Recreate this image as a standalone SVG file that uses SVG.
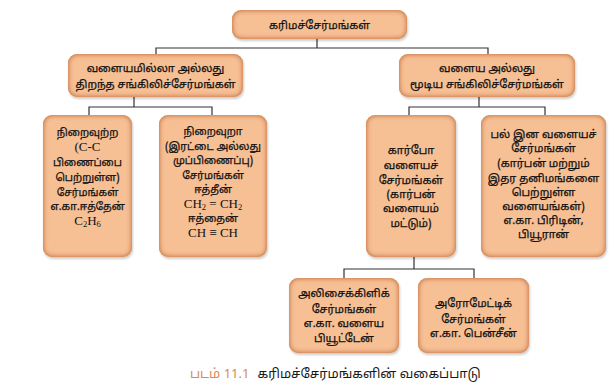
<svg xmlns="http://www.w3.org/2000/svg" width="615" height="389" viewBox="0 0 615 389">
<style>
.box{fill:#f6bf94;filter:url(#bevel)}
.t{font-family:"Noto Sans Tamil","Lohit Tamil","Noto Sans","DejaVu Sans",sans-serif;font-size:11px;fill:#111;stroke:#111;stroke-width:0.25;text-anchor:middle}
.tt{font-size:10.5px}
.s{font-family:"Liberation Serif","Times New Roman",serif;font-size:13px;fill:#111;text-anchor:middle}
.c{stroke:#333;stroke-width:1.2;fill:none}
.cap{font-family:"Noto Sans Tamil","Lohit Tamil","Noto Sans","DejaVu Sans",sans-serif;font-size:13px}
</style>
<defs>
<filter id="bevel" x="-10%" y="-10%" width="120%" height="125%">
<feGaussianBlur in="SourceAlpha" stdDeviation="2.8" result="b"/>
<feComposite in="SourceAlpha" in2="b" operator="out" result="edge"/>
<feFlood flood-color="#cc7a40" result="col"/>
<feComposite in="col" in2="edge" operator="in" result="inner"/>
<feGaussianBlur in="SourceAlpha" stdDeviation="1.2" result="sb"/>
<feOffset in="sb" dx="1" dy="1.5" result="so"/>
<feFlood flood-color="#000" flood-opacity="0.2"/>
<feComposite in2="so" operator="in" result="shadow"/>
<feMerge><feMergeNode in="shadow"/><feMergeNode in="SourceGraphic"/><feMergeNode in="inner"/><feMergeNode in="inner"/></feMerge>
</filter>
</defs>
<rect width="615" height="389" fill="#fff"/>
<g id="connectors">
<path class="c" d="M317,39V48M156,54V48H488V54"/>
<path class="c" d="M134,97V107M89,115V107H212V115"/>
<path class="c" d="M479,97V107M409,115V107H545V115"/>
<path class="c" d="M414,257V269M344,278V269H474V278"/>
</g>
<g id="root">
<rect class="box" x="232" y="10" width="175" height="29" rx="9"/>
<text class="t" x="319.5" y="29">கரிமச்சேர்மங்கள்</text>
</g>
<g id="acyclic">
<rect class="box" x="68" y="54" width="175" height="43" rx="9"/>
<text class="t" x="155.5" y="72">வளையமில்லா அல்லது</text>
<text class="t" x="155.5" y="88">திறந்த சங்கிலிச்சேர்மங்கள்</text>
</g>
<g id="cyclic">
<rect class="box" x="399" y="54" width="176" height="43" rx="9"/>
<text class="t" x="487" y="72">வளைய அல்லது</text>
<text class="t" x="487" y="88">மூடிய சங்கிலிச்சேர்மங்கள்</text>
</g>
<g id="saturated">
<rect class="box" x="43" y="115" width="89" height="142" rx="9"/>
<text class="t tt" x="87.5" y="136">நிறைவுற்ற</text>
<text class="s" x="87.5" y="151">(C-C</text>
<text class="t tt" x="87.5" y="166">பிணைப்பை</text>
<text class="t tt" x="87.5" y="181">பெற்றுள்ள)</text>
<text class="t tt" x="87.5" y="196">சேர்மங்கள்</text>
<text class="t tt" x="87.5" y="210">எ.கா.ஈத்தேன்</text>
<text class="s" x="87.5" y="225">C<tspan font-size="8.5" dy="2">2</tspan><tspan dy="-2">H</tspan><tspan font-size="8.5" dy="2">6</tspan></text>
</g>
<g id="unsaturated">
<rect class="box" x="159" y="115" width="108" height="142" rx="9"/>
<text class="t tt" x="213" y="135">நிறைவுறா</text>
<text class="t tt" x="213" y="149.5">(இரட்டை அல்லது</text>
<text class="t tt" x="213" y="164">முப்பிணைப்பு)</text>
<text class="t tt" x="213" y="178.5">சேர்மங்கள்</text>
<text class="t tt" x="213" y="193">ஈத்தீன்</text>
<text class="s" x="213" y="207.5">CH<tspan font-size="8.5" dy="2">2</tspan><tspan dy="-2"> = CH</tspan><tspan font-size="8.5" dy="2">2</tspan></text>
<text class="t tt" x="213" y="222">ஈத்தைன்</text>
<text class="s" x="213" y="237">CH ≡ CH</text>
</g>
<g id="carbocyclic">
<rect class="box" x="366" y="115" width="90" height="142" rx="9"/>
<text class="t" x="411" y="154">கார்போ</text>
<text class="t" x="411" y="169">வளையச்</text>
<text class="t" x="411" y="184">சேர்மங்கள்</text>
<text class="t" x="411" y="198">(கார்பன்</text>
<text class="t" x="411" y="212">வளையம்</text>
<text class="t" x="411" y="227">மட்டும்)</text>
</g>
<g id="heterocyclic">
<rect class="box" x="481" y="115" width="125" height="142" rx="9"/>
<text class="t" x="543.5" y="138">பல் இன வளையச்</text>
<text class="t" x="543.5" y="152">சேர்மங்கள்</text>
<text class="t" x="543.5" y="167">(கார்பன் மற்றும்</text>
<text class="t" x="543.5" y="182">இதர தனிமங்களை</text>
<text class="t" x="543.5" y="196">பெற்றுள்ள</text>
<text class="t" x="543.5" y="210">வளையங்கள்)</text>
<text class="t" x="543.5" y="224">எ.கா. பிரிடின்,</text>
<text class="t" x="543.5" y="238">பியூரான்</text>
</g>
<g id="alicyclic">
<rect class="box" x="289" y="278" width="110" height="75" rx="9"/>
<text class="t" x="344" y="297">அலிசைக்கிளிக்</text>
<text class="t" x="344" y="313">சேர்மங்கள்</text>
<text class="t" x="344" y="327">எ.கா. வளைய</text>
<text class="t" x="344" y="342">பியூட்டேன்</text>
</g>
<g id="aromatic">
<rect class="box" x="418" y="278" width="111" height="75" rx="9"/>
<text class="t" x="473.5" y="307">அரோமேட்டிக்</text>
<text class="t" x="473.5" y="323">சேர்மங்கள்</text>
<text class="t" x="473.5" y="337">எ.கா. பென்சீன்</text>
</g>
<text class="cap" x="190" y="378"><tspan fill="#d88a55">படம் 11.1</tspan><tspan fill="#1a1a1a" dx="8">கரிமச்சேர்மங்களின் வகைப்பாடு</tspan></text>
</svg>
